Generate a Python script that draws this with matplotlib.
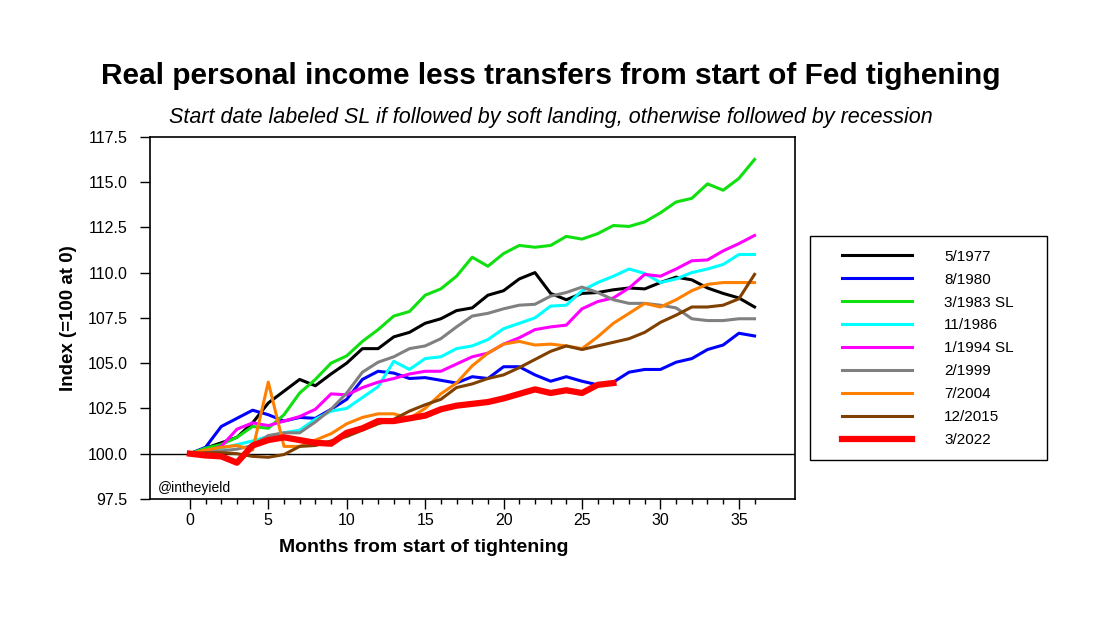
import numpy as np
import matplotlib
matplotlib.use('Agg')
import matplotlib.pyplot as plt
from matplotlib.ticker import MultipleLocator, FixedLocator
from matplotlib.patches import Rectangle

plt.rcParams['font.family'] = ['Liberation Sans', 'DejaVu Sans']

# index values, month 0 = start of tightening
s_1977 = [100, 100.3, 100.6, 100.9, 101.7, 102.8, 103.45, 104.1, 103.75, 104.4, 105.0, 105.8,
          105.8, 106.45, 106.7, 107.2, 107.45, 107.9, 108.05, 108.75, 109.0, 109.65, 110.0,
          108.85, 108.5, 108.85, 108.9, 109.05, 109.15, 109.1, 109.45, 109.75, 109.6, 109.15,
          108.85, 108.6, 108.1]
s_1980 = [100, 100.35, 101.5, 101.95, 102.4, 102.15, 101.8, 102.0, 101.95, 102.45, 103.0, 104.1,
          104.55, 104.45, 104.15, 104.2, 104.05, 103.9, 104.25, 104.15, 104.8, 104.8, 104.35,
          104.0, 104.25, 104.0, 103.8, 103.95, 104.5, 104.65, 104.65, 105.05, 105.25, 105.75,
          106.0, 106.65, 106.5]
s_1983 = [100, 100.3, 100.5, 100.9, 101.5, 101.4, 102.15, 103.35, 104.1, 105.0, 105.4, 106.2,
          106.85, 107.6, 107.85, 108.75, 109.1, 109.8, 110.85, 110.35, 111.05, 111.5, 111.4,
          111.5, 112.0, 111.85, 112.15, 112.6, 112.55, 112.8, 113.3, 113.9, 114.1, 114.9,
          114.55, 115.2, 116.25]
s_1986 = [100, 100.15, 100.3, 100.5, 100.7, 100.95, 101.15, 101.3, 101.9, 102.35, 102.5, 103.1,
          103.7, 105.1, 104.65, 105.25, 105.35, 105.8, 105.95, 106.3, 106.9, 107.2, 107.5,
          108.15, 108.2, 109.0, 109.45, 109.8, 110.2, 109.95, 109.45, 109.65, 110.0, 110.2,
          110.45, 111.0, 111.0]
s_1994 = [100, 100.1, 100.4, 101.35, 101.7, 101.55, 101.8, 102.05, 102.45, 103.3, 103.25, 103.65,
          103.95, 104.15, 104.4, 104.55, 104.55, 104.95, 105.35, 105.55, 106.05, 106.4, 106.85,
          107.0, 107.1, 108.0, 108.4, 108.6, 109.15, 109.9, 109.8, 110.2, 110.65, 110.7,
          111.2, 111.6, 112.05]
s_1999 = [100, 100.05, 100.15, 100.25, 100.45, 101.0, 101.15, 101.15, 101.75, 102.45, 103.35,
          104.5, 105.05, 105.35, 105.8, 105.95, 106.35, 107.0, 107.6, 107.75, 108.0, 108.2,
          108.25, 108.7, 108.9, 109.2, 108.9, 108.5, 108.3, 108.3, 108.2, 108.05, 107.45,
          107.35, 107.35, 107.45, 107.45]
s_2004 = [100, 100.2, 100.35, 100.45, 100.2, 103.95, 100.4, 100.4, 100.75, 101.1, 101.65, 102.0,
          102.2, 102.2, 101.95, 102.5, 103.3, 103.9, 104.85, 105.55, 106.05, 106.2, 106.0,
          106.05, 105.95, 105.8, 106.45, 107.2, 107.75, 108.3, 108.1, 108.5, 109.0, 109.35,
          109.45, 109.45, 109.45]
s_2015 = [100, 100.05, 100.05, 100.0, 99.85, 99.8, 99.95, 100.4, 100.45, 100.7, 100.95, 101.3,
          101.65, 101.9, 102.35, 102.7, 103.0, 103.65, 103.85, 104.15, 104.35, 104.75, 105.2,
          105.65, 105.95, 105.75, 105.95, 106.15, 106.35, 106.7, 107.25, 107.65, 108.1, 108.1,
          108.2, 108.55, 109.9]
s_2022 = [100, 99.9, 99.85, 99.5, 100.45, 100.75, 100.9, 100.75, 100.6, 100.55, 101.15, 101.4,
          101.8, 101.8, 101.95, 102.1, 102.45, 102.65, 102.75, 102.85, 103.05, 103.3, 103.55,
          103.35, 103.5, 103.35, 103.8, 103.9]

labels = ['5/1977', '8/1980', '3/1983 SL', '11/1986', '1/1994 SL', '2/1999', '7/2004',
          '12/2015', '3/2022']
series = [s_1977, s_1980, s_1983, s_1986, s_1994, s_1999, s_2004, s_2015, s_2022]
colors = ['#000000', '#0000ff', '#10e010', '#00ffff', '#ff00ff', '#808080', '#ff8000',
          '#804000', '#ff0000']

fig = plt.figure(figsize=(11.02, 6.19), dpi=100)
ax = fig.add_axes([0.136, 0.194, 0.585, 0.585])

for vals, lab, col in zip(series, labels, colors):
    months = np.arange(len(vals))
    lw = 4.5 if lab == '3/2022' else 2.2
    ax.plot(months, vals, color=col, lw=lw, label=lab, zorder=3 if lab == '3/2022' else 2)

ax.axhline(100, color='black', lw=1, zorder=1)

ax.set_xlim(-2.55, 38.55)
ax.set_ylim(97.5, 117.5)
ax.xaxis.set_major_locator(FixedLocator(range(0, 36, 5)))
ax.xaxis.set_minor_locator(FixedLocator(range(0, 37)))
ax.yaxis.set_major_locator(MultipleLocator(2.5))
ax.set_yticklabels(['%.1f' % v for v in ax.get_yticks()])
ax.tick_params(axis='both', which='major', direction='out', length=7, width=1, labelsize=11.5)
ax.tick_params(axis='y', which='major', pad=9)
ax.tick_params(axis='x', which='minor', direction='out', length=3.5, width=1)
for sp in ax.spines.values():
    sp.set_linewidth(1.2)

ax.set_xlabel('Months from start of tightening', fontsize=14, fontweight='bold')
ax.xaxis.set_label_coords(0.425, -0.112)
ax.set_ylabel('Index (=100 at 0)', fontsize=13.5, fontweight='bold', labelpad=8)
ax.text(0.012, 0.03, '@intheyield', transform=ax.transAxes, fontsize=10, va='center')

fig.text(0.5, 0.877, 'Real personal income less transfers from start of Fed tighening',
         ha='center', va='center', fontsize=21.5, fontweight='bold')
fig.text(0.5, 0.810, 'Start date labeled SL if followed by soft landing, otherwise followed by recession',
         ha='center', va='center', fontsize=15.5, style='italic')

leg = ax.legend(loc='upper left', bbox_to_anchor=(0.754, 0.614), bbox_transform=fig.transFigure,
                fontsize=11, frameon=False,
                handlelength=4.6, handletextpad=2.1, labelspacing=0.585, borderpad=0.7,
                borderaxespad=0)
fig.add_artist(Rectangle((810 / 1102, 1 - 460 / 619), 237 / 1102, 224 / 619,
                         transform=fig.transFigure, fill=False, ec='black', lw=1))

fig.savefig('out.png', dpi=100)
